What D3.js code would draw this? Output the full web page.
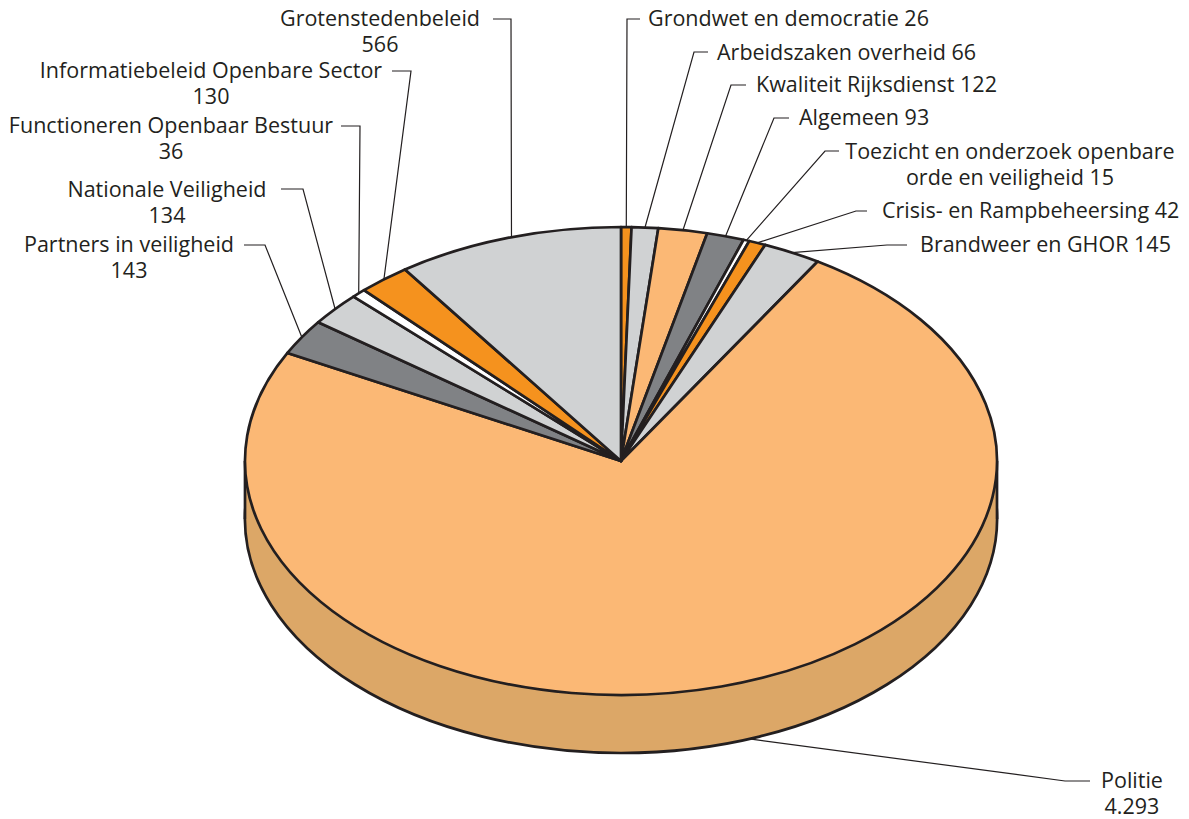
<!DOCTYPE html>
<html>
<head>
<meta charset="utf-8">
<script src="https://cdn.jsdelivr.net/npm/d3@7"></script>
<style>
  html, body { margin: 0; background: #fff; }
  text { font-family: "Open Sans", sans-serif; font-size: 21.5px; fill: #231f20; }
</style>
</head>
<body>
<div class="canvas"></div>
<script>
// Values, clockwise from 12 o'clock
const categories = ['Grondwet en democratie', 'Arbeidszaken overheid', 'Kwaliteit Rijksdienst', 'Algemeen',
  'Toezicht en onderzoek openbare orde en veiligheid', 'Crisis- en Rampbeheersing', 'Brandweer en GHOR', 'Politie',
  'Partners in veiligheid', 'Nationale Veiligheid', 'Functioneren Openbaar Bestuur',
  'Informatiebeleid Openbare Sector', 'Grotenstedenbeleid']
const values = [26, 66, 122, 93, 15, 42, 145, 4293, 143, 134, 36, 130, 566]
const valueLabels = ['26', '66', '122', '93', '15', '42', '145', '4.293', '143', '134', '36', '130', '566']

const lightGrey = '#d0d2d3', orange = '#f5921e', peach = '#fbb875', darkGrey = '#808285', white = '#ffffff'
const sliceColours = [orange, lightGrey, peach, darkGrey, white, orange, lightGrey, peach, darkGrey, lightGrey, white, orange, lightGrey]

// Label placement, same order as categories
// x = text anchor, y = first baseline, hook = [elbow x, elbow y, end x, end y]
const labelLayout = [
  { lines: ['Grondwet en democratie 26'], x: 648, y: 26, anchor: 'start', hook: [627, 19, 640, 19] },
  { lines: ['Arbeidszaken overheid 66'], x: 717, y: 60, anchor: 'start', hook: [694, 52, 708, 52] },
  { lines: ['Kwaliteit Rijksdienst 122'], x: 756, y: 92, anchor: 'start', hook: [731, 85, 746, 85] },
  { lines: ['Algemeen 93'], x: 799, y: 125, anchor: 'start', hook: [774, 118, 789, 118] },
  { lines: ['Toezicht en onderzoek openbare', 'orde en veiligheid 15'], x: 1010, y: 159, anchor: 'middle', hook: [825, 151, 839, 151] },
  { lines: ['Crisis- en Rampbeheersing 42'], x: 882, y: 218, anchor: 'start', hook: [856, 211, 867, 211] },
  { lines: ['Brandweer en GHOR 145'], x: 920, y: 252, anchor: 'start', hook: [887, 245, 907, 245] },
  { lines: ['Politie', '4.293'], x: 1132, y: 788, anchor: 'middle', hook: [1065, 781, 1090, 781], turn: -4.5, onSide: true },
  { lines: ['Partners in veiligheid', '143'], x: 129, y: 252, anchor: 'middle', hook: [265, 245, 244, 245] },
  { lines: ['Nationale Veiligheid', '134'], x: 167, y: 197, anchor: 'middle', hook: [303, 189, 281, 189] },
  { lines: ['Functioneren Openbaar Bestuur', '36'], x: 171, y: 133, anchor: 'middle', hook: [360, 126, 341, 126] },
  { lines: ['Informatiebeleid Openbare Sector', '130'], x: 211, y: 78, anchor: 'middle', hook: [411, 71, 392, 71] },
  { lines: ['Grotenstedenbeleid', '566'], x: 380, y: 26, anchor: 'middle', hook: [511, 19, 493, 19], turn: 0.6 }
]

const width = 1189
const height = 819
const cx = 621, cy = 461, rx = 376, ry = 234, depth = 58
const edge = '#231f20'

const svg = d3.select('.canvas')
  .append('svg')
    .attr('width', width)
    .attr('height', height)
    .style('display', 'block')

const pie = d3.pie().sort(null).value((d) => d.value)
const slices = pie(categories.map((name, i) => ({ name, value: values[i], label: valueLabels[i], layout: labelLayout[i] })))
const arc = d3.arc().innerRadius(0).outerRadius(rx)

const colour = d3.scaleOrdinal().domain(categories).range(sliceColours)

// Point on the rim of the squashed pie for an angle in radians
const rim = (angle) => [cx + rx * Math.sin(angle), cy - ry * Math.cos(angle)]

// Side of the disc: lower ellipse plus a band up to the top ellipse
const disc = svg.append('g')

disc.append('path')
  .attr('d', arc({ startAngle: 0, endAngle: 2 * Math.PI }))
  .attr('transform', `translate(${cx},${cy + depth}) scale(1,${ry / rx})`)
  .attr('fill', '#dca767')
  .attr('stroke', edge)
  .attr('stroke-width', 2.7)
  .attr('vector-effect', 'non-scaling-stroke')

disc.append('rect')
  .attr('x', cx - rx)
  .attr('y', cy)
  .attr('width', 2 * rx)
  .attr('height', depth)
  .attr('fill', '#dca767')

disc.selectAll('line')
  .data([cx - rx, cx + rx])
  .enter()
  .append('line')
    .attr('x1', (d) => d)
    .attr('x2', (d) => d)
    .attr('y1', cy)
    .attr('y2', cy + depth)
    .attr('stroke', edge)
    .attr('stroke-width', 2.7)

// Top of the disc
svg.append('g')
  .attr('transform', `translate(${cx},${cy}) scale(1,${ry / rx})`)
  .selectAll('path')
  .data(slices)
  .enter()
  .append('path')
    .attr('d', arc)
    .attr('fill', (d) => colour(d.data.name))
    .attr('stroke', edge)
    .attr('stroke-width', 2.7)
    .attr('stroke-linejoin', 'round')
    .attr('vector-effect', 'non-scaling-stroke')

// Leader lines start on the rim at the middle of each slice
const leaders = svg.append('g')

leaders.selectAll('path')
  .data(slices)
  .enter()
  .append('path')
    .attr('d', (d) => {
      const l = d.data.layout
      const mid = (d.startAngle + d.endAngle) / 2 + (l.turn || 0) * Math.PI / 180
      const p = rim(mid)
      if (l.onSide) p[1] += depth
      return d3.line()([p, [l.hook[0], l.hook[1]], [l.hook[2], l.hook[3]]])
    })
    .attr('fill', 'none')
    .attr('stroke', edge)
    .attr('stroke-width', 1.2)

// Labels
const labels = svg.append('g')
  .selectAll('text')
  .data(slices)
  .enter()
  .append('text')
    .attr('text-anchor', (d) => d.data.layout.anchor)

labels.selectAll('tspan')
  .data((d) => d.data.layout.lines.map((line, i) => ({ line, i, l: d.data.layout })))
  .enter()
  .append('tspan')
    .attr('x', (d) => d.l.x)
    .attr('y', (d) => d.l.y + d.i * 25.5)
    .text((d) => d.line)
</script>
</body>
</html>
